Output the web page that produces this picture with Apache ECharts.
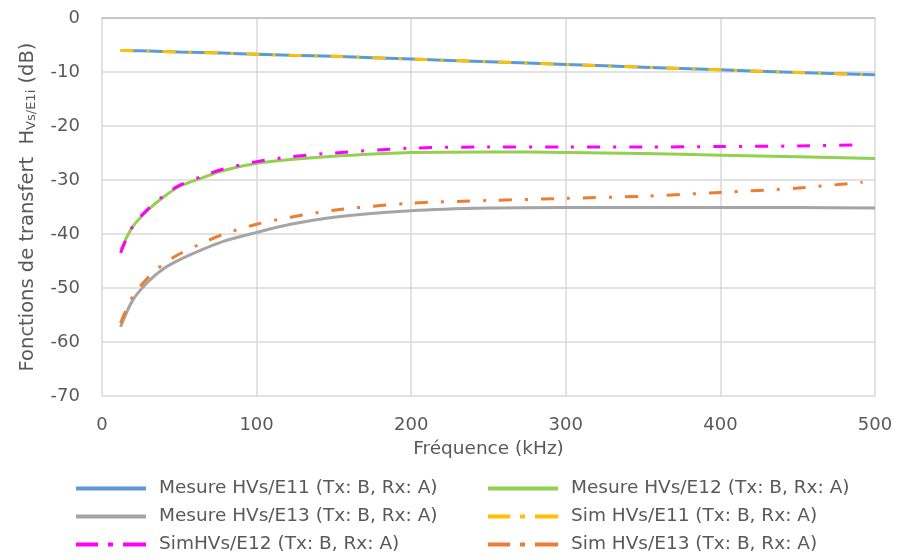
<!DOCTYPE html>
<html><head><meta charset="utf-8">
<script src="https://cdn.jsdelivr.net/npm/echarts@6/dist/echarts.min.js"></script>
<style>html,body{margin:0;padding:0;background:#fff}#c{width:897px;height:560px}</style>
</head><body><div id="c"></div>
<script>
const freqMeas = [12, 20, 30, 40, 50, 64, 78, 100, 122, 150, 200, 250, 300, 350, 400, 450, 500];
const freqSim  = [12, 20, 30, 40, 50, 64, 78, 100, 122, 150, 200, 250, 300, 350, 400, 450, 492];
const measE11 = [-6.0, -6.05, -6.1, -6.2, -6.3, -6.4, -6.5, -6.7, -6.9, -7.1, -7.6, -8.1, -8.6, -9.1, -9.6, -10.1, -10.5];
const measE12 = [-43, -38.6, -35.5, -33.1, -31.2, -29.7, -28.3, -26.9, -26.2, -25.6, -24.9, -24.8, -24.9, -25.1, -25.4, -25.7, -26.0];
const measE13 = [-57.2, -52.2, -48.8, -46.4, -44.8, -43.0, -41.4, -39.7, -38.2, -36.9, -35.7, -35.2, -35.1, -35.1, -35.1, -35.1, -35.2];
const simE11 = [-6.0, -6.05, -6.1, -6.2, -6.3, -6.4, -6.5, -6.7, -6.9, -7.1, -7.6, -8.1, -8.6, -9.1, -9.6, -10.1, -10.5];
const simE12 = [-43.5, -38.5, -35.3, -32.9, -31.0, -29.4, -28.0, -26.6, -25.7, -25.0, -24.1, -23.9, -23.9, -23.9, -23.8, -23.7, -23.5];
const simE13 = [-56.5, -51.5, -48.0, -45.5, -43.7, -41.8, -40.1, -38.2, -36.9, -35.6, -34.3, -33.8, -33.4, -33.0, -32.3, -31.5, -30.4];
const names = ['Mesure HVs/E11 (Tx: B, Rx: A)','Mesure HVs/E12 (Tx: B, Rx: A)','Mesure HVs/E13 (Tx: B, Rx: A)','Sim HVs/E11 (Tx: B, Rx: A)','SimHVs/E12 (Tx: B, Rx: A)','Sim HVs/E13 (Tx: B, Rx: A)'];
const colors = ['#5B9BD5','#92D050','#A5A5A5','#FFC000','#FF00FF','#ED7D31'];
const xTicks = [0,100,200,300,400,500];
const yTicks = [0,-10,-20,-30,-40,-50,-60,-70];

const FONT = 'DejaVu Sans';
const TXT = '#595959';
const dash = [13, 13, 3, 13];
const solidIcon = 'path://M0,0 L70,0 L70,4 L0,4 Z';
const dashIcon = 'path://M0,0 L22,0 L22,4 L0,4 Z M32,0 L37,0 L37,4 L32,4 Z M47,0 L70,0 L70,4 L47,4 Z';
function pair(xs, ys){ return xs.map((x,i)=>[x, ys[i]]); }
const seriesData = [pair(freqMeas,measE11), pair(freqMeas,measE12), pair(freqMeas,measE13), pair(freqSim,simE11), pair(freqSim,simE12), pair(freqSim,simE13)];
const series = seriesData.map((d,i)=>({
  name: names[i], type:'line', data:d, smooth:0.3, symbol:'none',
  z: i<3 ? 2 : 3,
  lineStyle:{color:colors[i], width:3, type: i<3 ? 'solid' : dash, cap:'butt'},
  itemStyle:{color:colors[i]}
}));
const legPos = [[76,479],[488,479],[76,507],[488,507],[76,535],[488,535]];
const legends = names.map((n,i)=>({
  data:[{name:n, icon: i<3 ? solidIcon : dashIcon}], left:legPos[i][0], top:legPos[i][1], padding:0,
  itemWidth:70, itemHeight:4,
  textStyle:{fontFamily:FONT, fontSize:18.5, color:TXT, padding:[0,0,0,8]}, selectedMode:false
}));
const chart = echarts.init(document.getElementById('c'));
chart.setOption({
  animation:false,
  color: colors,
  grid:{left:102, right:22, top:18, bottom:164},
  legend: legends,
  xAxis:{type:'value', min:0, max:500, interval:100,
    name:'Fréquence (kHz)', nameLocation:'middle', nameGap:44,
    nameTextStyle:{fontFamily:FONT, fontSize:18.5, color:TXT},
    axisLine:{show:true, lineStyle:{color:'#BFBFBF', width:1.5}},
    axisTick:{show:false},
    axisLabel:{fontFamily:FONT, fontSize:18, color:TXT, margin:20},
    splitLine:{show:true, lineStyle:{color:'#D9D9D9', width:1.5}}
  },
  yAxis:{type:'value', min:-70, max:0, interval:10,
    name:'{a|Fonctions de transfert  H}{b|Vs/E1i}{a| (dB)}', nameLocation:'middle', nameGap:64, nameRotate:90,
    nameTextStyle:{rich:{a:{fontFamily:FONT, fontSize:19.5, color:TXT}, b:{fontFamily:FONT, fontSize:13, color:TXT, verticalAlign:'bottom', padding:[8,0,0,0]}}},
    axisLine:{show:false}, axisTick:{show:false},
    axisLabel:{fontFamily:FONT, fontSize:18, color:TXT, margin:22},
    splitLine:{show:true, lineStyle:{color:'#D9D9D9', width:1.5}}
  },
  series: series
});
</script></body></html>
